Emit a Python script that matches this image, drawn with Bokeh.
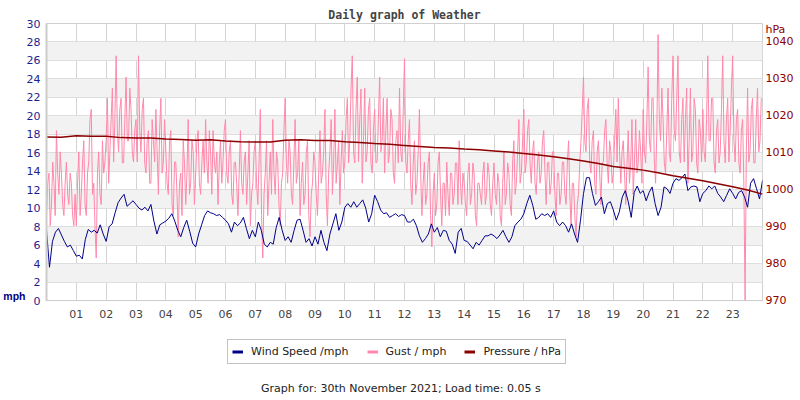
from bokeh.plotting import figure
from bokeh.layouts import column
from bokeh.models import (Range1d, LinearAxis, FixedTicker, Label, Legend, LegendItem)
from bokeh.embed import file_html
from bokeh.resources import INLINE

# ---------------- data ----------------
hour_labels = ["%02d" % h for h in range(1, 24)]
hour_ticks = list(range(1, 24))
mph_ticks = list(range(0, 31, 2))
hpa_ticks = [970, 980, 990, 1000, 1010, 1020, 1030, 1040]

# wind speed (mph), every 6 minutes
wind_speed = [
    7.6, 3.6, 6.4, 7.4, 7.8, 7.1, 6.4, 5.8, 6.0, 5.4,
    4.8, 4.9, 4.5, 6.6, 7.7, 7.4, 7.6, 7.3, 8.2, 7.2,
    6.4, 8.0, 8.3, 9.5, 10.6, 11.1, 11.5, 10.2, 10.5, 10.8,
    10.4, 10.0, 9.8, 10.1, 9.7, 10.4, 8.6, 7.2, 8.2, 8.4,
    8.6, 8.9, 9.4, 8.6, 7.6, 6.9, 7.9, 8.7, 7.5, 6.2,
    5.8, 7.2, 8.2, 9.2, 9.7, 9.5, 9.4, 9.2, 9.3, 9.0,
    8.7, 8.3, 7.4, 8.5, 8.1, 8.4, 9.0, 7.8, 6.7, 7.6,
    6.9, 8.5, 7.6, 6.1, 5.8, 6.3, 6.1, 7.9, 9.0, 7.6,
    6.5, 6.9, 6.3, 7.6, 8.7, 8.8, 7.6, 6.3, 6.7, 5.9,
    6.9, 6.1, 7.6, 6.3, 5.4, 7.2, 8.3, 9.4, 7.6, 8.5,
    10.1, 10.5, 10.1, 10.7, 10.1, 10.5, 10.9, 10.0, 8.5, 9.4,
    11.4, 10.7, 9.8, 9.4, 9.5, 9.0, 9.2, 9.4, 9.1, 9.3,
    9.2, 8.5, 8.5, 8.8, 8.1, 7.0, 6.3, 6.7, 7.2, 8.3,
    7.4, 7.9, 6.9, 7.6, 7.5, 6.5, 6.1, 5.1, 7.4, 7.8,
    6.5, 6.4, 6.0, 5.6, 6.3, 6.0, 6.5, 7.0, 7.0, 7.2,
    7.0, 6.7, 7.1, 7.6, 6.9, 6.3, 6.9, 8.1, 8.5, 8.8,
    9.4, 10.5, 11.4, 10.3, 8.8, 9.0, 9.4, 9.2, 9.4, 9.0,
    9.7, 8.5, 8.1, 8.5, 8.1, 7.4, 8.3, 7.2, 6.3, 8.7,
    11.6, 13.3, 13.3, 11.6, 10.3, 10.7, 11.2, 9.4, 10.5, 10.7,
    9.8, 8.7, 9.6, 11.2, 11.9, 10.7, 9.0, 11.7, 12.4, 11.6,
    11.9, 10.8, 11.7, 12.3, 10.5, 9.2, 10.1, 12.3, 12.1, 11.6,
    12.7, 13.2, 13.0, 13.3, 13.7, 11.9, 12.3, 12.4, 12.3, 10.7,
    11.6, 11.9, 12.4, 12.1, 12.4, 11.6, 11.2, 10.7, 11.4, 12.1,
    11.6, 11.0, 11.7, 11.9, 11.2, 10.1, 12.7, 13.2, 12.1, 11.0,
    13.0,
]
wind_hours = [i / 10 for i in range(len(wind_speed))]

# gust (mph), every 2.5 minutes (24 readings per hour)
gust = [
    9.2, 12.7, 13.8, 8.1, 10.4, 15.0, 12.7, 9.2, 18.4, 13.8, 11.5, 16.1,
    13.8, 10.4, 9.2, 12.7, 15.0, 11.5, 10.4, 13.8, 12.7, 9.2, 8.1, 11.5,
    8.1, 12.7, 16.1, 9.2, 11.5, 15.0, 17.3, 10.4, 9.2, 13.8, 15.0, 19.6,
    20.7, 11.5, 12.7, 8.1, 4.6, 13.8, 16.1, 11.5, 10.4, 17.3, 13.8, 15.0,
    17.3, 21.9, 12.7, 16.1, 19.6, 23.0, 15.0, 19.6, 26.5, 18.4, 16.1, 20.7,
    21.9, 14.9, 14.9, 19.6, 24.2, 17.3, 17.3, 23.0, 20.7, 16.1, 15.0, 18.4,
    19.6, 15.0, 26.5, 18.4, 16.1, 20.7, 21.9, 14.9, 13.8, 17.3, 18.4, 12.7,
    12.7, 19.6, 17.3, 15.0, 20.7, 16.1, 11.5, 18.4, 21.9, 13.8, 15.0, 19.6,
    16.1, 12.7, 11.5, 17.3, 18.4, 10.4, 9.2, 15.0, 15.0, 11.5, 6.9, 12.7,
    13.8, 9.2, 17.3, 14.9, 10.4, 13.8, 19.6, 11.5, 12.7, 17.3, 16.1, 10.4,
    13.8, 17.3, 18.4, 12.7, 11.5, 15.0, 17.3, 13.8, 19.6, 14.9, 12.7, 18.4,
    16.1, 11.5, 18.4, 15.0, 13.8, 16.1, 10.4, 14.9, 17.3, 12.7, 15.0, 18.4,
    19.6, 13.8, 12.7, 16.1, 17.3, 11.5, 10.4, 14.9, 15.0, 12.7, 9.2, 13.8,
    18.4, 12.7, 11.5, 15.0, 16.1, 10.4, 13.8, 17.3, 8.1, 11.5, 12.7, 16.1,
    17.3, 12.7, 10.4, 15.0, 20.7, 9.2, 4.6, 11.5, 13.8, 17.3, 9.2, 12.7,
    16.1, 11.5, 19.6, 13.8, 11.5, 16.1, 15.0, 10.4, 8.1, 12.7, 13.8, 18.4,
    21.9, 14.9, 12.7, 17.3, 16.1, 11.5, 10.4, 15.0, 19.6, 12.7, 13.8, 17.3,
    9.2, 12.7, 15.0, 10.4, 11.5, 16.1, 17.3, 9.2, 6.9, 11.5, 12.7, 16.1,
    15.0, 11.5, 9.2, 13.8, 18.4, 12.7, 13.8, 16.1, 20.7, 11.5, 8.1, 13.8,
    16.1, 19.6, 11.5, 14.9, 20.7, 12.7, 14.9, 17.3, 10.4, 15.0, 18.4, 13.8,
    15.0, 19.6, 21.9, 14.9, 17.3, 23.0, 26.5, 16.1, 14.9, 20.7, 24.2, 15.0,
    19.6, 22.9, 12.7, 17.3, 23.0, 15.0, 16.1, 20.7, 21.9, 14.9, 13.8, 18.4,
    20.7, 14.9, 15.0, 19.6, 24.2, 16.1, 17.3, 21.9, 13.8, 18.4, 21.9, 14.9,
    16.1, 20.7, 19.6, 13.8, 12.7, 17.3, 18.4, 14.9, 23.0, 16.1, 15.0, 20.7,
    26.2, 15.0, 13.8, 17.3, 19.6, 12.7, 10.4, 14.9, 17.3, 11.5, 12.7, 16.1,
    20.7, 13.8, 9.2, 12.7, 15.0, 10.4, 11.5, 14.9, 16.1, 9.2, 5.8, 11.5,
    13.8, 9.2, 10.4, 14.9, 16.1, 11.5, 8.1, 12.7, 12.7, 9.2, 15.0, 11.5,
    9.2, 13.8, 13.8, 10.4, 11.5, 14.9, 14.9, 10.4, 17.3, 12.7, 10.4, 13.8,
    12.7, 10.4, 9.2, 13.8, 14.9, 10.4, 11.5, 14.9, 13.8, 9.2, 8.1, 12.7,
    12.7, 11.5, 10.4, 13.8, 15.0, 10.4, 11.5, 14.9, 13.8, 10.4, 9.2, 12.7,
    14.9, 11.5, 10.4, 13.8, 12.7, 9.2, 8.1, 12.7, 16.1, 10.4, 11.5, 14.9,
    13.8, 10.4, 9.2, 15.0, 17.3, 11.5, 12.7, 16.1, 19.6, 12.7, 13.8, 17.3,
    20.7, 13.8, 15.0, 18.4, 19.6, 14.9, 12.7, 16.1, 17.3, 12.7, 11.5, 15.0,
    16.1, 12.7, 13.8, 17.3, 18.4, 13.8, 10.4, 14.9, 15.0, 11.5, 12.7, 16.1,
    16.1, 11.5, 9.2, 13.8, 13.8, 10.4, 11.5, 15.0, 15.0, 11.5, 10.4, 14.9,
    17.3, 11.5, 8.1, 12.7, 12.7, 9.2, 6.9, 10.4, 11.5, 14.9, 17.3, 20.7,
    24.2, 17.3, 16.1, 20.7, 21.9, 15.0, 13.8, 17.3, 18.4, 12.7, 11.5, 16.1,
    17.3, 13.8, 10.4, 14.9, 15.0, 18.4, 19.6, 14.9, 12.7, 17.3, 16.1, 12.7,
    13.8, 17.3, 20.7, 15.0, 21.9, 16.1, 12.7, 16.1, 17.3, 13.8, 10.4, 14.9,
    18.4, 12.7, 15.0, 19.6, 11.5, 14.9, 19.6, 13.8, 14.9, 18.4, 16.1, 12.7,
    20.7, 16.1, 14.9, 19.6, 25.3, 17.3, 16.1, 21.9, 21.9, 15.0, 12.7, 18.4,
    28.8, 19.6, 17.3, 23.0, 19.6, 14.9, 13.8, 18.4, 23.0, 16.1, 15.0, 21.9,
    26.5, 18.4, 17.3, 21.9, 26.5, 16.1, 14.9, 19.6, 21.9, 15.0, 19.6, 23.0,
    12.7, 17.3, 23.0, 15.0, 16.1, 21.9, 20.7, 14.9, 13.8, 19.6, 18.4, 15.0,
    20.7, 16.1, 15.0, 19.6, 26.5, 17.3, 17.3, 21.9, 21.9, 15.0, 13.8, 18.4,
    19.6, 14.9, 16.1, 20.7, 26.5, 17.3, 14.9, 19.6, 21.9, 15.0, 18.4, 23.0,
    26.5, 17.3, 15.0, 19.6, 20.7, 14.9, 13.8, 18.4, 19.6, 12.7, 0.0, 16.1,
    23.0, 15.0, 16.1, 20.7, 21.9, 14.9, 14.9, 19.6, 23.0, 16.1, 17.3, 21.9,
]
gust_hours = [i / 24 for i in range(len(gust))]

# pressure (hPa), every 30 minutes
pressure = [
    1014.3, 1014.2, 1014.6, 1014.5, 1014.5, 1014.1, 1014.0, 1014.0,
    1013.7, 1013.6, 1013.4, 1013.5, 1013.2, 1013.0, 1012.9, 1012.9,
    1013.4, 1013.5, 1013.3, 1013.3, 1013.0, 1012.8, 1012.5, 1012.3,
    1012.0, 1011.7, 1011.4, 1011.3, 1011.0, 1010.8, 1010.5, 1010.2,
    1009.8, 1009.4, 1008.9, 1008.4, 1007.8, 1007.1, 1006.3, 1005.8,
    1005.3, 1004.6, 1003.8, 1003.1, 1002.4, 1001.6, 1000.8, 999.9,
    998.8,
]
pressure_hours = [i / 2 for i in range(len(pressure))]

# unit captions (placed as extra tick labels)
mph_caption_at = 0.47
hpa_caption_at = 1043.3

# ---------------- styles ----------------
NAVY = "#000088"
PINK = "#ff88aa"
DARKRED = "#8b0000"
LEFT_LBL = "#1f1f8f"
FONT = "DejaVu Sans"
FS = "11px"

p = figure(width=800, height=324, output_backend="svg", toolbar_location=None,
           x_range=Range1d(0, 24), y_range=Range1d(0, 30),
           min_border_left=40, min_border_right=38, min_border_top=23,
           min_border_bottom=24)
p.extra_y_ranges = {"hpa": Range1d(970, 1045)}
p.outline_line_color = "#d0d0d0"

p.title.text = "Daily graph of Weather"
p.title.align = "center"
p.title.text_font = "DejaVu Sans Mono"
p.title.text_font_style = "bold"
p.title.text_font_size = "11.5px"
p.title.text_color = "#444444"
p.title.standoff = 3

# grids
p.xgrid.ticker = FixedTicker(ticks=hour_ticks)
p.ygrid.ticker = FixedTicker(ticks=mph_ticks)
p.xgrid.grid_line_color = "#d3d3d3"
p.ygrid.grid_line_color = "#dedede"
p.ygrid.band_fill_color = "#f2f2f2"
p.ygrid.band_fill_alpha = 1.0


def bare(ax):
    ax.major_tick_line_color = None
    ax.minor_tick_line_color = None
    ax.major_tick_out = 0
    ax.major_tick_in = 0
    ax.minor_tick_out = 0
    ax.minor_tick_in = 0


xa = p.xaxis[0]
xa.ticker = FixedTicker(ticks=hour_ticks)
xa.major_label_overrides = {t: lbl for t, lbl in zip(hour_ticks, hour_labels)}
xa.axis_line_color = "#cccccc"
bare(xa)
xa.major_label_text_font = FONT
xa.major_label_text_font_size = FS
xa.major_label_text_color = "#444444"
xa.major_label_standoff = 9

ya = p.yaxis[0]
ya.ticker = FixedTicker(ticks=mph_ticks)
ya.axis_line_color = "#cccccc"
ya.axis_line_width = 2
bare(ya)
ya.major_label_text_font = FONT
ya.major_label_text_font_size = FS
ya.major_label_text_color = LEFT_LBL
ya.major_label_standoff = 6

# outer left axis carrying the "mph" caption
ma = LinearAxis(ticker=FixedTicker(ticks=[mph_caption_at]))
ma.major_label_overrides = {mph_caption_at: "mph"}
ma.axis_line_color = None
bare(ma)
ma.major_label_text_font = "Liberation Sans"
ma.major_label_text_font_style = "bold"
ma.major_label_text_font_size = "10.5px"
ma.major_label_text_color = "#000080"
ma.major_label_standoff = -2
p.add_layout(ma, "left")

ra = LinearAxis(y_range_name="hpa",
                ticker=FixedTicker(ticks=hpa_ticks + [hpa_caption_at]))
ra.major_label_overrides = {hpa_caption_at: "hPa"}
ra.axis_line_color = None
bare(ra)
ra.major_label_text_font = FONT
ra.major_label_text_font_size = FS
ra.major_label_text_color = DARKRED
ra.major_label_standoff = 3
p.add_layout(ra, "right")

# data lines
p.line(gust_hours, gust, line_color=PINK, line_width=1)
p.line(wind_hours, wind_speed, line_color=NAVY, line_width=1)
p.line(pressure_hours, pressure, line_color=DARKRED, line_width=1.5, y_range_name="hpa")

# ---------------- legend + footer strip ----------------
p2 = figure(width=800, height=76, output_backend="svg", toolbar_location=None,
            x_range=Range1d(0, 800), y_range=Range1d(0, 76),
            x_axis_location=None, y_axis_location=None,
            min_border=0, min_border_left=0, min_border_right=0,
            min_border_top=0, min_border_bottom=0)
p2.outline_line_color = None
p2.grid.visible = False

# legend swatches: the same series, hidden here, drawn thick in the legend only
lw = p2.line(wind_hours, wind_speed, line_color=NAVY, line_width=3, visible=False)
lg = p2.line(gust_hours, gust, line_color=PINK, line_width=3, visible=False)
lp = p2.line(pressure_hours, pressure, line_color=DARKRED, line_width=3, visible=False)
legend = Legend(items=[LegendItem(label="Wind Speed /mph", renderers=[lw]),
                       LegendItem(label="Gust / mph", renderers=[lg]),
                       LegendItem(label="Pressure / hPa", renderers=[lp])],
                orientation="horizontal", location=(181, 36),
                border_line_color="#888888", border_line_width=1,
                background_fill_color="white", background_fill_alpha=1.0,
                inactive_fill_alpha=0.0,
                label_text_font=FONT, label_text_font_size=FS,
                label_text_color="#222222",
                glyph_width=11, glyph_height=15, label_standoff=8,
                spacing=18, padding=4, margin=0, label_height=15)
p2.add_layout(legend, "center")

p2.add_layout(Label(x=396, y=12,
                    text="Graph for: 30th November 2021; Load time: 0.05 s",
                    text_font=FONT, text_font_size=FS, text_color="#222222",
                    text_align="center", text_baseline="middle"))

layout = column(p, p2, spacing=0)
open("out.html", "w").write(file_html(layout, INLINE))
